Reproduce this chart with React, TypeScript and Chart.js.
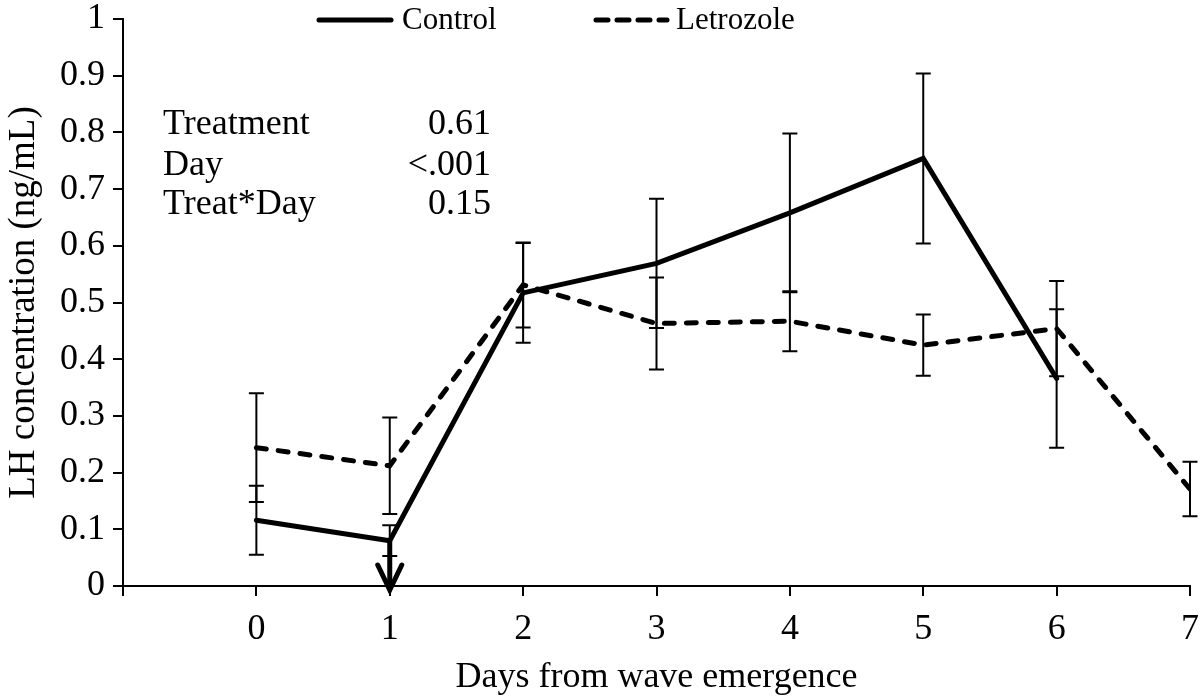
import React, { useEffect, useRef } from "react";
import { Chart, registerables } from "chart.js";

Chart.register(...registerables);

// ---- Data ----
const days = [0, 1, 2, 3, 4, 5, 6, 7];
const controlMean = [0.116, 0.08, 0.517, 0.569, 0.658, 0.754, 0.366, null];
const controlErr = [0.061, 0.027, 0.088, 0.114, 0.14, 0.15, 0.122, null];
const letrozoleMean = [0.244, 0.212, 0.531, 0.463, 0.467, 0.425, 0.454, 0.171];
const letrozoleErr = [0.096, 0.085, 0.075, 0.081, 0.053, 0.054, 0.084, 0.048];
const seriesNames = ["Control", "Letrozole"];
const statLabels = ["Treatment", "Day", "Treat*Day"];
const statValues = ["0.61", "<.001", "0.15"];
const arrowDay = 1;
const arrowFrom = 0.08;
const arrowTo = 0;
const xTitle = "Days from wave emergence";
const yTitle = "LH concentration (ng/mL)";

const FONT = "'Liberation Serif', 'Times New Roman', serif";

const overlayPlugin = {
  id: "overlay",
  afterDatasetsDraw(chart: any) {
    const ctx = chart.ctx;
    const xs = chart.scales.x;
    const ys = chart.scales.y;
    const area = chart.chartArea;
    ctx.save();
    ctx.strokeStyle = "#000";
    ctx.fillStyle = "#000";

    // error bars
    const drawErr = (means: (number | null)[], errs: (number | null)[]) => {
      ctx.lineWidth = 2;
      ctx.lineCap = "butt";
      means.forEach((m, i) => {
        const e = errs[i];
        if (m == null || e == null) return;
        const x = xs.getPixelForValue(days[i]);
        const yt = ys.getPixelForValue(m + e);
        const yb = ys.getPixelForValue(m - e);
        ctx.beginPath();
        ctx.moveTo(x, yt);
        ctx.lineTo(x, yb);
        ctx.moveTo(x - 7.5, yt);
        ctx.lineTo(x + 7.5, yt);
        ctx.moveTo(x - 7.5, yb);
        ctx.lineTo(x + 7.5, yb);
        ctx.stroke();
      });
    };
    drawErr(controlMean, controlErr);
    drawErr(letrozoleMean, letrozoleErr);

    // arrow
    const ax = xs.getPixelForValue(arrowDay);
    const ay0 = ys.getPixelForValue(arrowFrom);
    const ay1 = ys.getPixelForValue(arrowTo) + 4;
    ctx.lineWidth = 5;
    ctx.lineCap = "butt";
    ctx.beginPath();
    ctx.moveTo(ax, ay0);
    ctx.lineTo(ax, ay1 - 2);
    ctx.stroke();
    ctx.lineCap = "round";
    ctx.lineJoin = "miter";
    ctx.beginPath();
    ctx.moveTo(ax - 12, ay1 - 25);
    ctx.lineTo(ax, ay1);
    ctx.lineTo(ax + 12, ay1 - 25);
    ctx.stroke();

    // stats text
    ctx.font = `36px ${FONT}`;
    ctx.textBaseline = "alphabetic";
    const baselines = [134, 175, 214];
    statLabels.forEach((t, i) => {
      ctx.textAlign = "left";
      ctx.fillText(t, area.left + 40, baselines[i]);
      ctx.textAlign = "right";
      ctx.fillText(statValues[i], area.left + 368, baselines[i]);
    });

    // legend
    ctx.font = `31px ${FONT}`;
    ctx.textAlign = "left";
    ctx.textBaseline = "middle";
    const ly = 20;
    ctx.lineWidth = 5;
    ctx.lineCap = "round";
    ctx.setLineDash([]);
    ctx.beginPath();
    ctx.moveTo(319, ly);
    ctx.lineTo(391, ly);
    ctx.stroke();
    ctx.fillText(seriesNames[0], 402, ly + 1);
    ctx.setLineDash([12, 9]);
    ctx.beginPath();
    ctx.moveTo(596, ly);
    ctx.lineTo(667, ly);
    ctx.stroke();
    ctx.setLineDash([]);
    ctx.fillText(seriesNames[1], 676, ly + 1);
    ctx.restore();
  },
};

export default function App() {
  const ref = useRef<HTMLCanvasElement>(null);
  useEffect(() => {
    if (!ref.current) return;
    Chart.defaults.font.family = FONT;
    Chart.defaults.color = "#000";
    const chart = new Chart(ref.current, {
      type: "line",
      data: {
        datasets: [
          {
            label: seriesNames[0],
            data: days
              .map((d, i) => ({ x: d, y: controlMean[i] }))
              .filter((p) => p.y != null) as any,
            borderColor: "#000",
            borderWidth: 5,
            pointRadius: 0,
            borderCapStyle: "round",
            borderJoinStyle: "miter",
            tension: 0,
          },
          {
            label: seriesNames[1],
            data: days.map((d, i) => ({ x: d, y: letrozoleMean[i] })) as any,
            borderColor: "#000",
            borderWidth: 5,
            borderDash: [10, 12],
            borderCapStyle: "round",
            pointRadius: 0,
            tension: 0,
          },
        ],
      },
      options: {
        responsive: false,
        animation: false,
        layout: { padding: { top: 19, right: 10, left: 0, bottom: 0 } },
        plugins: {
          legend: { display: false },
          tooltip: { enabled: false },
        },
        scales: {
          x: {
            type: "linear",
            min: -1,
            max: 7,
            afterFit: (s: any) => {
              s.height = 111;
              s.paddingRight = 0;
              s.paddingLeft = 0;
            },
            ticks: {
              stepSize: 1,
              padding: 12,
              font: { size: 36 },
              color: "#000",
              maxRotation: 0,
              callback: (v: any) => (v === -1 ? "" : String(v)),
            },
            grid: {
              drawOnChartArea: false,
              drawTicks: true,
              tickLength: 10,
              color: "#000",
              lineWidth: 2,
            },
            border: { color: "#000", width: 2 },
            title: {
              display: true,
              text: xTitle,
              font: { size: 36, lineHeight: 1 },
              color: "#000",
              padding: { top: 0, bottom: 1 },
            },
          },
          y: {
            min: 0,
            max: 1,
            afterFit: (s: any) => {
              s.width = 123;
              s.paddingTop = 0;
              s.paddingBottom = 0;
            },
            ticks: {
              stepSize: 0.1,
              padding: 8,
              font: { size: 36 },
              color: "#000",
              callback: (v: any) => String(Number(Number(v).toFixed(1))),
            },
            grid: {
              drawOnChartArea: false,
              drawTicks: true,
              tickLength: 10,
              color: "#000",
              lineWidth: 2,
            },
            border: { color: "#000", width: 2 },
            title: {
              display: true,
              text: yTitle,
              font: { size: 37, lineHeight: 1 },
              color: "#000",
              padding: { top: 6, bottom: 0 },
            },
          },
        },
      },
      plugins: [overlayPlugin],
    } as any);
    return () => chart.destroy();
  }, []);
  return (
    <div style={{ position: "fixed", left: 0, top: 0, width: 1200, height: 697, background: "#fff" }}>
      <canvas ref={ref} width={1200} height={697} style={{ display: "block" }} />
    </div>
  );
}
